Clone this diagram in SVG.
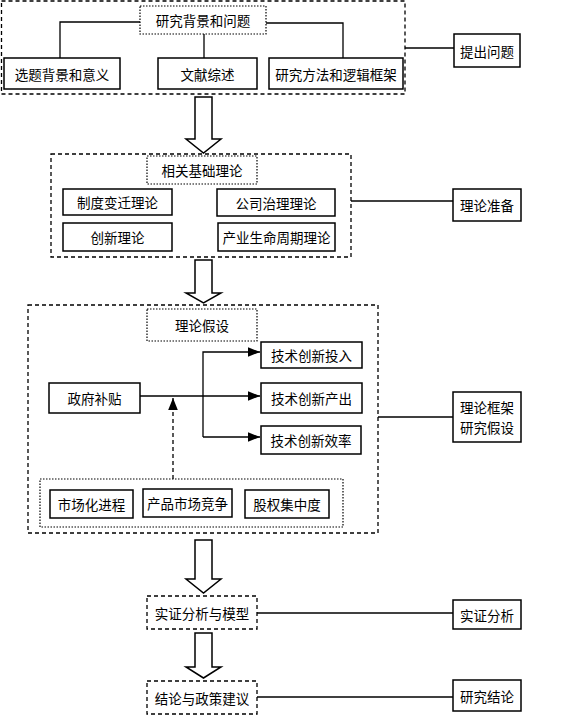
<svg xmlns="http://www.w3.org/2000/svg" width="568" height="716" viewBox="0 0 568 716">
<defs>
<style>
.b{fill:#fff;stroke:#000;stroke-width:1.5}
.d{fill:none;stroke:#000;stroke-width:1.3;stroke-dasharray:4,3}
.o{fill:#fff;stroke:#000;stroke-width:1.2;stroke-dasharray:1.5,1.5}
.l{fill:none;stroke:#000;stroke-width:1.3}
.a{fill:#fff;stroke:#000;stroke-width:1.5;stroke-linejoin:miter}
text{font-family:"Noto Sans CJK SC","Liberation Sans",sans-serif;font-size:13.5px;fill:#000;text-anchor:middle;dominant-baseline:central}
</style>
<marker id="ah2" viewBox="0 0 10 10" refX="10" refY="5" markerWidth="12" markerHeight="12" orient="auto" markerUnits="userSpaceOnUse">
<path d="M0,1 L10,5 L0,9 z" fill="#000"/>
</marker>
</defs>

<g id="groups">
<rect class="d" x="1.5" y="1" width="403.5" height="93"/>
<rect class="d" x="51" y="154" width="300" height="103"/>
<rect class="d" x="28" y="305" width="350" height="228"/>
</g>

<g id="connectors">
<path class="l" d="M140,22 H60 V58"/>
<path class="l" d="M204,34 V58"/>
<path class="l" d="M266,23 H343 V58"/>
<path class="l" d="M405,48 H454"/>
<path class="l" d="M351,201 H453"/>
<path class="l" d="M378,417 H453"/>
<path class="l" d="M257,613 H453"/>
<path class="l" d="M257,697 H453"/>
<path class="l" d="M140,396 H260" marker-end="url(#ah2)"/>
<path class="l" d="M203,437 V352 H260" marker-end="url(#ah2)"/>
<path class="l" d="M203,437 H260" marker-end="url(#ah2)"/>
<path class="l" d="M173,479 V398" stroke-dasharray="4,3" marker-end="url(#ah2)"/>
<polygon class="a" points="195,97 212,97 212,139 221,139 203.5,153 186,139 195,139"/>
<polygon class="a" points="195,260 212,260 212,293 221,293 203.5,303 186,293 195,293"/>
<polygon class="a" points="195,540 212,540 212,579 221,579 203.5,593 186,579 195,579"/>
<polygon class="a" points="195,633 212,633 212,667 221,667 203.5,678 186,667 195,667"/>
</g>

<g id="n-bg"><rect class="o" x="140" y="6" width="126" height="28"/><text x="203" y="20">研究背景和问题</text></g>
<g id="n-xt"><rect class="b" x="4" y="58" width="116" height="31"/><text x="62" y="73.5">选题背景和意义</text></g>
<g id="n-wx"><rect class="b" x="158" y="58" width="99" height="31"/><text x="207.5" y="73.5">文献综述</text></g>
<g id="n-ff"><rect class="b" x="269" y="58" width="134" height="31"/><text x="336" y="73.5">研究方法和逻辑框架</text></g>
<g id="n-tc"><rect class="b" x="454" y="34" width="66" height="33"/><text x="487" y="50.5">提出问题</text></g>

<g id="n-xg"><rect class="o" x="147" y="156" width="110" height="28"/><text x="202" y="170">相关基础理论</text></g>
<g id="n-zd"><rect class="b" x="63" y="189" width="109" height="26"/><text x="117.5" y="202">制度变迁理论</text></g>
<g id="n-gs"><rect class="b" x="217" y="189" width="118" height="27"/><text x="276" y="202.5">公司治理理论</text></g>
<g id="n-cx"><rect class="b" x="63" y="223" width="109" height="28"/><text x="117.5" y="237">创新理论</text></g>
<g id="n-cy"><rect class="b" x="218" y="223" width="117" height="28"/><text x="276.5" y="237">产业生命周期理论</text></g>
<g id="n-llzb"><rect class="b" x="453" y="189" width="68" height="32"/><text x="487" y="205">理论准备</text></g>

<g id="n-lljs"><rect class="o" x="147" y="309" width="110" height="32"/><text x="202" y="325">理论假设</text></g>
<g id="n-tr"><rect class="b" x="261" y="342" width="101" height="26"/><text x="311.5" y="355">技术创新投入</text></g>
<g id="n-zf"><rect class="b" x="49" y="383" width="91" height="30"/><text x="94.5" y="398">政府补贴</text></g>
<g id="n-cc"><rect class="b" x="261" y="383" width="101" height="30"/><text x="311.5" y="398">技术创新产出</text></g>
<g id="n-xl"><rect class="b" x="261" y="426" width="100" height="28"/><text x="311" y="440">技术创新效率</text></g>
<g id="n-mod"><rect class="o" x="40" y="479" width="303" height="48"/></g>
<g id="n-sc"><rect class="b" x="50" y="490" width="83" height="28"/><text x="91.5" y="504">市场化进程</text></g>
<g id="n-cp"><rect class="b" x="143" y="489" width="89" height="28"/><text x="187.5" y="503">产品市场竞争</text></g>
<g id="n-gq"><rect class="b" x="245" y="490" width="84" height="28"/><text x="287" y="504">股权集中度</text></g>
<g id="n-kj"><rect class="b" x="453" y="392" width="68" height="50"/><text x="487" y="407">理论框架</text><text x="487" y="427">研究假设</text></g>

<g id="n-sz"><rect class="d" x="147" y="596" width="110" height="33"/><text x="202" y="612.5">实证分析与模型</text></g>
<g id="n-szfx"><rect class="b" x="453" y="600" width="68" height="29"/><text x="487" y="614.5">实证分析</text></g>
<g id="n-jl"><rect class="d" x="147" y="681" width="110" height="33"/><text x="202" y="697.5">结论与政策建议</text></g>
<g id="n-yjjl"><rect class="b" x="453" y="680" width="68" height="31"/><text x="487" y="695.5">研究结论</text></g>
</svg>
